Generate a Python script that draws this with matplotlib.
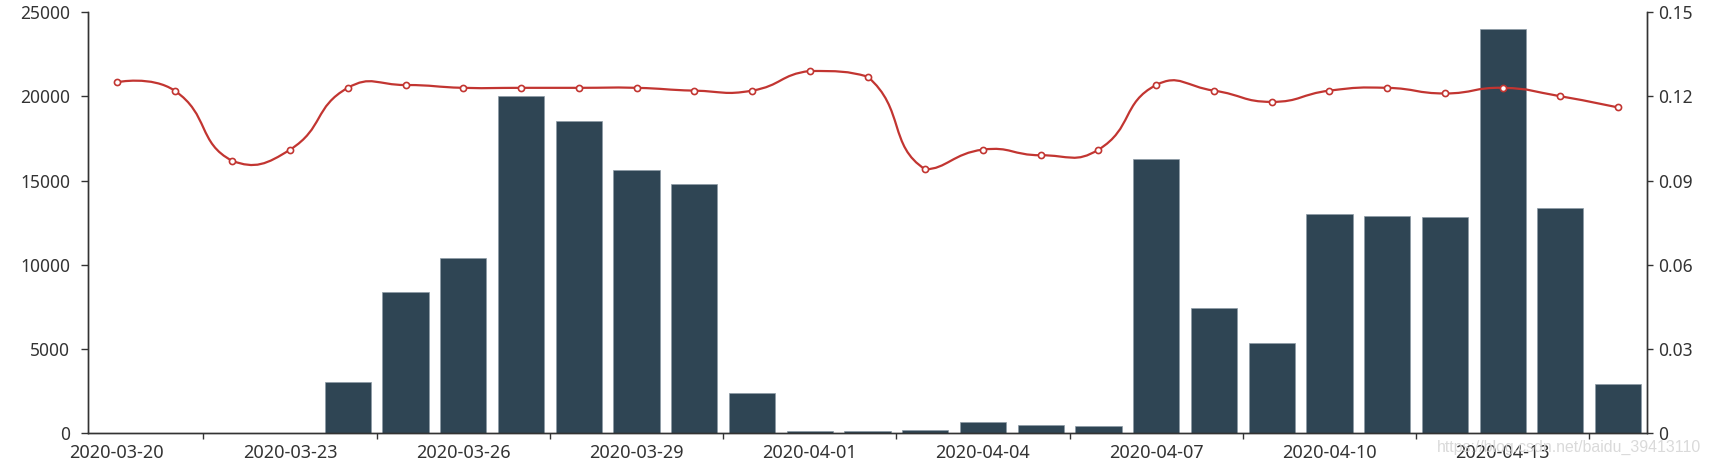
import matplotlib
matplotlib.use("Agg")
import matplotlib.pyplot as plt
from matplotlib.path import Path
from matplotlib.patches import PathPatch
import numpy as np

dates = ["2020-03-20", "2020-03-21", "2020-03-22", "2020-03-23", "2020-03-24",
         "2020-03-25", "2020-03-26", "2020-03-27", "2020-03-28", "2020-03-29",
         "2020-03-30", "2020-03-31", "2020-04-01", "2020-04-02", "2020-04-03",
         "2020-04-04", "2020-04-05", "2020-04-06", "2020-04-07", "2020-04-08",
         "2020-04-09", "2020-04-10", "2020-04-11", "2020-04-12", "2020-04-13",
         "2020-04-14", "2020-04-15"]
bar_values = [30, 0, 0, 30, 3030, 8400, 10400, 20000, 18550, 15600, 14780, 2380,
              120, 140, 200, 650, 500, 430, 16250, 7440, 5360, 13040, 12920,
              12830, 24000, 13350, 2920]
line_values = [0.125, 0.122, 0.097, 0.101, 0.123, 0.124, 0.123, 0.123, 0.123,
               0.123, 0.122, 0.122, 0.129, 0.127, 0.094, 0.101, 0.099, 0.101,
               0.124, 0.122, 0.118, 0.122, 0.123, 0.121, 0.123, 0.120, 0.116]
left_ticks = [0, 5000, 10000, 15000, 20000, 25000]
right_ticks = [0, 0.03, 0.06, 0.09, 0.12, 0.15]
right_tick_labels = ["0", "0.03", "0.06", "0.09", "0.12", "0.15"]

BAR_COLOR = "#2f4554"
LINE_COLOR = "#c23531"
AXIS_COLOR = "#333333"
FONT = ["Noto Sans", "DejaVu Sans"]

W, H = 1711, 465
fig = plt.figure(figsize=(W / 100, H / 100), dpi=100)
ax = fig.add_axes([88 / W, 1 - 433.3 / H, (1647 - 88) / W, 421.3 / H])
ax2 = ax.twinx()

x = np.arange(len(dates))
ax.bar(x, bar_values, width=0.8, color=BAR_COLOR, edgecolor="#8d9ba6",
       linewidth=0.5, zorder=2)
ax.set_xlim(-0.5, len(dates) - 0.5)
ax.set_ylim(0, 25000)
ax.set_yticks(left_ticks)
ax.set_yticklabels([str(v) for v in left_ticks])

label_idx = list(range(0, len(dates), 3))
ax.set_xticks(label_idx)
ax.set_xticklabels([dates[i] for i in label_idx])
ax.set_xticks([i + 1.5 for i in range(0, len(dates) - 1, 3)], minor=True)
ax.tick_params(axis="x", which="major", length=0, pad=8, labelsize=13,
               labelcolor="#333333")
ax.tick_params(axis="x", which="minor", length=4.5, width=1.0, color=AXIS_COLOR)
ax.tick_params(axis="y", length=5, width=1.0, color=AXIS_COLOR, pad=8,
               labelsize=12.5, labelcolor="#333333")

ax2.set_ylim(0, 0.15)
ax2.set_yticks(right_ticks)
ax2.set_yticklabels(right_tick_labels)
ax2.tick_params(axis="y", length=4, width=1.0, color=AXIS_COLOR, pad=4,
                labelsize=12.5, labelcolor="#333333")

for a in (ax, ax2):
    a.spines["top"].set_visible(False)
    for s in ("left", "right", "bottom"):
        a.spines[s].set_color(AXIS_COLOR)
        a.spines[s].set_linewidth(1.0)
    for lab in a.get_xticklabels() + a.get_yticklabels():
        lab.set_family(FONT)

# smooth line: ECharts-style bezier smoothing with bounding-box constraint,
# computed in display space from the data points
pts = ax2.transData.transform(np.column_stack([x, line_values]))
pmin = pts.min(axis=0)
pmax = pts.max(axis=0)
smooth = 0.5
n = len(pts)
cps = [pts[0].copy()]
for i in range(1, n - 1):
    p, pp, pn = pts[i], pts[i - 1], pts[i + 1]
    v = (pn - pp) * smooth
    d0 = np.hypot(*(p - pp))
    d1 = np.hypot(*(p - pn))
    s = d0 + d1
    if s:
        d0 /= s
        d1 /= s
    c0 = np.clip(p - v * d0, pmin, pmax)
    c1 = np.clip(p + v * d1, pmin, pmax)
    cps.append(c0)
    cps.append(c1)
cps.append(pts[-1].copy())
verts = [pts[0]]
codes = [Path.MOVETO]
for i in range(n - 1):
    verts += [cps[2 * i], cps[2 * i + 1], pts[i + 1]]
    codes += [Path.CURVE4] * 3
inv = ax2.transData.inverted()
verts_data = inv.transform(np.array(verts))
patch = PathPatch(Path(verts_data, codes), facecolor="none",
                  edgecolor=LINE_COLOR, linewidth=1.6, zorder=3,
                  capstyle="round", joinstyle="round")
ax2.add_patch(patch)
ax2.plot(x, line_values, linestyle="none", marker="o", markersize=4.4,
         markerfacecolor="white", markeredgecolor=LINE_COLOR,
         markeredgewidth=1.2, zorder=4, clip_on=False)

fig.text(1701 / W, 1 - 451.7 / H, "https://blog.csdn.net/baidu_39413110",
         ha="right", va="baseline", fontsize=11.4, color="#d6d6d6",
         family=["Liberation Sans", "DejaVu Sans"], alpha=0.9, zorder=10)

fig.savefig("out.png", dpi=100)
